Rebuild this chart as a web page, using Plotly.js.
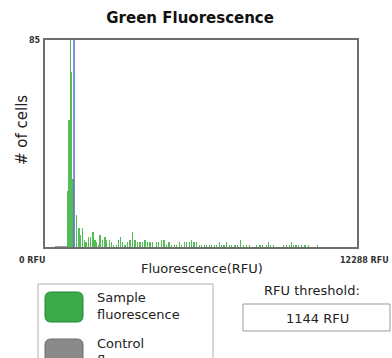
<!DOCTYPE html>
<html><head><meta charset="utf-8">
<script src="https://cdn.plot.ly/plotly-3.0.1.min.js"></script>
<style>html,body{margin:0;padding:0;background:#fff;}#chart{width:392px;height:358px;}</style>
</head><body><div id="chart"></div>
<script>
// Sample fluorescence histogram: bin position (RFU) and cell count
var sampleRFU = [894,945,996,1052,1103,1248,1339,1406,1469,1548,1615,1705,1800,1890,1969,2036,2115,2166,2272,2363,2430,2532,2627,2690,2824,2887,2981,3060,3151,3257,3347,3454,3545,3635,3742,3848,3938,4029,4135,4242,4399,4478,4596,4687,4793,4884,4990,5092,5187,5289,5384,5486,5581,5683,5778,5868,5975,6077,6172,6274,6369,6471,6566,6668,6762,6865,6959,7050,7156,7259,7353,7483,7574,7708,7810,7944,8046,8338,8468,8574,8732,8795,8889,8992,9385,9519,9622,9716,9779,9885,9976,10110,10240,10370,10725];
var sampleCount = [23,52,85,72,28,13,8,5,8,3,2,4,4,6,3,2,1,5,3,4,3,3,2,1,1,3,4,2,1,2,3,6,3,2,2,2,3,2,2,2,2,2,3,3,1,2,1,1,1,2,1,2,2,2,3,2,2,1,1,1,1,1,1,1,1,2,1,1,2,1,1,1,1,3,1,1,1,1,1,1,1,2,1,1,1,1,1,2,1,1,1,1,1,1,1];
// Control fluorescence (barely visible near baseline)
var controlRFU = [440,560,680,800];
var controlCount = [0.3,0.3,0.3,0.3];
var thresholdRFU = 1144;
var xMax = 12288, yMax = 85;

var barW = 46;
var traces = [
  {type:'bar', x:controlRFU, y:controlCount, width:barW*2.6, marker:{color:'#a0a0a0'}, hoverinfo:'skip', showlegend:false},
  {type:'bar', x:sampleRFU, y:sampleCount, width:barW, marker:{color:'rgba(55,178,55,0.85)', line:{width:0}}, showlegend:false},
  {type:'scatter', mode:'lines', x:[thresholdRFU,thresholdRFU], y:[0,yMax], line:{color:'#5a6ad0', width:1.5}, showlegend:false, hoverinfo:'skip'}
];

function px(x){return (x-45)/312;}
function py(y){return (247-y)/207;}
function rrect(x0,y0,x1,y1,r){
  return 'M '+px(x0+r)+','+py(y0)+' L '+px(x1-r)+','+py(y0)+' Q '+px(x1)+','+py(y0)+' '+px(x1)+','+py(y0+r)+
    ' L '+px(x1)+','+py(y1-r)+' Q '+px(x1)+','+py(y1)+' '+px(x1-r)+','+py(y1)+
    ' L '+px(x0+r)+','+py(y1)+' Q '+px(x0)+','+py(y1)+' '+px(x0)+','+py(y1-r)+
    ' L '+px(x0)+','+py(y0+r)+' Q '+px(x0)+','+py(y0)+' '+px(x0+r)+','+py(y0)+' Z';
}

var layout = {
  width:392, height:358,
  margin:{l:45, r:35, t:40, b:111},
  paper_bgcolor:'#fff', plot_bgcolor:'#fff',
  barmode:'overlay', bargap:0,
  title:{text:'<b>Green Fluorescence</b>', font:{family:'DejaVu Sans', size:15, color:'#111'}, x:0.485, xanchor:'center', y:0.95, yanchor:'middle'},
  xaxis:{range:[0,xMax], showticklabels:false, ticks:'', showgrid:false, zeroline:false,
    showline:true, linecolor:'#6e6e6e', linewidth:2, mirror:true,
    title:{text:''}, fixedrange:true},
  yaxis:{range:[0,yMax], showticklabels:false, ticks:'', showgrid:false, zeroline:false,
    showline:true, linecolor:'#6e6e6e', linewidth:2, mirror:true,
    title:{text:''}, fixedrange:true},
  shapes:[
    {type:'rect', xref:'paper', yref:'paper', x0:px(38), x1:px(213), y0:py(284), y1:py(380), line:{color:'#b0b0b0', width:1}, fillcolor:'rgba(0,0,0,0)'},
    {type:'path', xref:'paper', yref:'paper', path:rrect(45,292,83,322,6), fillcolor:'#3aab48', line:{color:'#23863a', width:1}},
    {type:'path', xref:'paper', yref:'paper', path:rrect(45,339,83,372,6), fillcolor:'#8a8a8a', line:{color:'#6a6a6a', width:1}},
    {type:'rect', xref:'paper', yref:'paper', x0:px(243), x1:px(390), y0:py(304), y1:py(331), line:{color:'#9a9a9a', width:1}, fillcolor:'#fff'}
  ],
  annotations:[
    {xref:'paper', yref:'paper', x:px(43), y:py(40), text:'<b>85</b>', showarrow:false, xanchor:'right', yanchor:'middle', font:{family:'DejaVu Sans', size:8, color:'#333'}},
    {xref:'paper', yref:'paper', x:px(17), y:py(260), text:'<b>0 RFU</b>', showarrow:false, xanchor:'left', yanchor:'middle', font:{family:'DejaVu Sans', size:8, color:'#333'}},
    {xref:'paper', yref:'paper', x:px(391), y:py(260), text:'<b>12288 RFU</b>', showarrow:false, xanchor:'right', yanchor:'middle', font:{family:'DejaVu Sans', size:8, color:'#333'}},
    {xref:'paper', yref:'paper', x:px(202), y:py(268), text:'Fluorescence(RFU)', showarrow:false, xanchor:'center', yanchor:'middle', font:{family:'DejaVu Sans', size:13, color:'#222'}},
    {xref:'paper', yref:'paper', x:px(22), y:py(130), text:'# of cells', textangle:-90, showarrow:false, xanchor:'center', yanchor:'middle', font:{family:'DejaVu Sans', size:15, color:'#222'}},
    {xref:'paper', yref:'paper', x:px(95), y:py(306), text:'Sample<br>fluorescence', align:'left', showarrow:false, xanchor:'left', yanchor:'middle', font:{family:'DejaVu Sans', size:13, color:'#222'}},
    {xref:'paper', yref:'paper', x:px(95), y:py(352), text:'Control<br>fluorescence', align:'left', showarrow:false, xanchor:'left', yanchor:'middle', font:{family:'DejaVu Sans', size:13, color:'#222'}},
    {xref:'paper', yref:'paper', x:px(312), y:py(290), text:'RFU threshold:', showarrow:false, xanchor:'center', yanchor:'middle', font:{family:'DejaVu Sans', size:13, color:'#222'}},
    {xref:'paper', yref:'paper', x:px(317), y:py(318), text:thresholdRFU+' RFU', showarrow:false, xanchor:'center', yanchor:'middle', font:{family:'DejaVu Sans', size:13, color:'#222'}}
  ]
};
Plotly.newPlot('chart', traces, layout, {displayModeBar:false, staticPlot:true});
</script></body></html>
